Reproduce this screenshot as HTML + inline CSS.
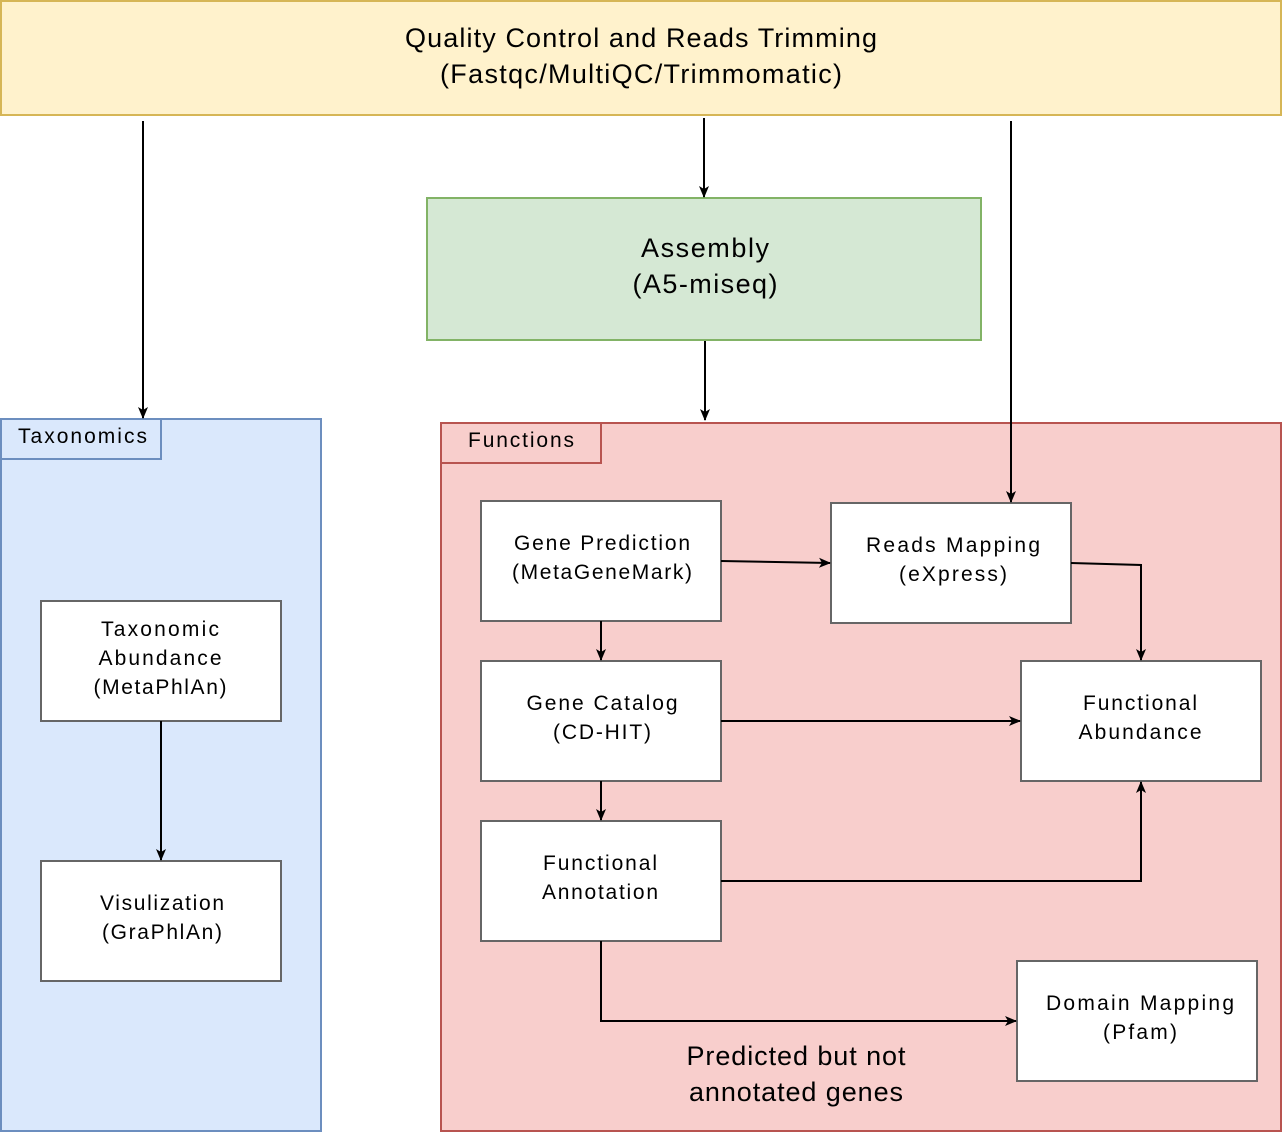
<!DOCTYPE html>
<html><head><meta charset="utf-8"><style>
html,body{margin:0;padding:0;background:#fff}
svg text{font-family:"Liberation Sans",Arial,sans-serif;fill:#000}
</style></head><body>
<svg width="1282" height="1132" viewBox="0 0 1282 1132" xmlns="http://www.w3.org/2000/svg">
<defs><marker id="a" markerWidth="12" markerHeight="12" refX="11" refY="6" orient="auto" markerUnits="userSpaceOnUse"><path d="M0,1 L12,6 L0,11 L3,6 Z" fill="#000"/></marker></defs>
<rect x="1" y="1" width="1280" height="114" fill="#fff2cc" stroke="#d6b656" stroke-width="2"/>
<text x="641" y="47" font-size="27" text-anchor="middle" textLength="472" lengthAdjust="spacing">Quality Control and Reads Trimming</text>
<text x="641" y="83" font-size="27" text-anchor="middle" textLength="402" lengthAdjust="spacing">(Fastqc/MultiQC/Trimmomatic)</text>
<rect x="427" y="198" width="554" height="142" fill="#d5e8d4" stroke="#82b366" stroke-width="2"/>
<text x="705" y="257" font-size="27" text-anchor="middle" textLength="128" lengthAdjust="spacing">Assembly</text>
<text x="705" y="293" font-size="27" text-anchor="middle" textLength="145" lengthAdjust="spacing">(A5-miseq)</text>
<rect x="1" y="419" width="320" height="712" fill="#dae8fc" stroke="#6c8ebf" stroke-width="2"/>
<rect x="1" y="419" width="160" height="40" fill="#dae8fc" stroke="#6c8ebf" stroke-width="2"/>
<text x="18" y="443" font-size="21" textLength="129" lengthAdjust="spacing">Taxonomics</text>
<rect x="441" y="423" width="840" height="708" fill="#f8cecc" stroke="#b85450" stroke-width="2"/>
<rect x="441" y="423" width="160" height="40" fill="#f8cecc" stroke="#b85450" stroke-width="2"/>
<text x="468" y="447" font-size="21" textLength="106" lengthAdjust="spacing">Functions</text>
<g fill="#fff" stroke="#666" stroke-width="2">
<rect x="41" y="601" width="240" height="120"/>
<rect x="41" y="861" width="240" height="120"/>
<rect x="481" y="501" width="240" height="120"/>
<rect x="481" y="661" width="240" height="120"/>
<rect x="481" y="821" width="240" height="120"/>
<rect x="831" y="503" width="240" height="120"/>
<rect x="1021" y="661" width="240" height="120"/>
<rect x="1017" y="961" width="240" height="120"/>
</g>
<g font-size="21" text-anchor="middle" lengthAdjust="spacing">
<text x="160" y="636" textLength="118">Taxonomic</text><text x="160" y="665" textLength="123">Abundance</text><text x="160" y="694" textLength="133">(MetaPhlAn)</text>
<text x="162" y="910" textLength="124">Visulization</text><text x="162" y="939" textLength="120">(GraPhlAn)</text>
<text x="602" y="550" textLength="176">Gene Prediction</text><text x="602" y="579" textLength="180">(MetaGeneMark)</text>
<text x="602" y="710" textLength="151">Gene Catalog</text><text x="602" y="739" textLength="98">(CD-HIT)</text>
<text x="600" y="870" textLength="114">Functional</text><text x="600" y="899" textLength="116">Annotation</text>
<text x="953" y="552" textLength="174">Reads Mapping</text><text x="953" y="581" textLength="108">(eXpress)</text>
<text x="1140" y="710" textLength="114">Functional</text><text x="1140" y="739" textLength="123">Abundance</text>
<text x="1140" y="1010" textLength="188">Domain Mapping</text><text x="1140" y="1039" textLength="74">(Pfam)</text>
</g>
<text x="796" y="1065" font-size="27" text-anchor="middle" textLength="219" lengthAdjust="spacing">Predicted but not</text>
<text x="796" y="1101" font-size="27" text-anchor="middle" textLength="214" lengthAdjust="spacing">annotated genes</text>
<g stroke="#000" stroke-width="2" fill="none" marker-end="url(#a)">
<path d="M143,121 V418"/>
<path d="M704,118 V197"/>
<path d="M1011,121 V502"/>
<path d="M705,341 V420"/>
<path d="M161,721 V860"/>
<path d="M601,621 V660"/>
<path d="M601,781 V820"/>
<path d="M721,561 L830,563"/>
<path d="M1071,563 L1141,565 V660"/>
<path d="M721,721 H1020"/>
<path d="M721,881 H1141 V782"/>
<path d="M601,941 V1021 H1016"/>
</g>
</svg>
</body></html>
